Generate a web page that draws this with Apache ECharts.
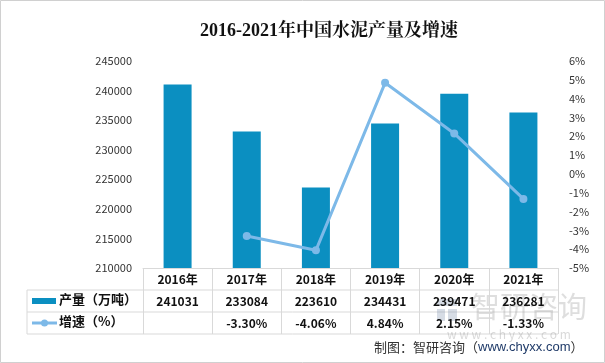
<!DOCTYPE html>
<html><head><meta charset="utf-8">
<script src="https://cdn.jsdelivr.net/npm/echarts@6/dist/echarts.min.js"></script>
<style>html,body{margin:0;padding:0;background:#fff}#c{width:605px;height:363px;}</style>
</head><body><div id="c"></div>
<script>
const categories = ['2016年','2017年','2018年','2019年','2020年','2021年'];
const output = [241031, 233084, 223610, 234431, 239471, 236281];
const growth = [null, -3.30, -4.06, 4.84, 2.15, -1.33];
const growthText = ['', '-3.30%', '-4.06%', '4.84%', '2.15%', '-1.33%'];
const seriesNames = ['产量（万吨）', '增速（%）'];
const titleText = '2016-2021年中国水泥产量及增速';
const sourceText = '制图：智研咨询（';
const sourceUrl = 'www.chyxx.com';

const barColor = '#0b8fc1';
const lineColor = '#7db9e8';
const gridC = '#d9d9d9';
const sans = '"Noto Sans CJK SC", "Noto Sans", sans-serif';

const chart = echarts.init(document.getElementById('c'), null, {renderer: 'canvas'});
const G = {left: 143, right: 47, top: 61, bottom: 95};
const tableLeft = 27, tableRight = 605 - G.right, axisY = 363 - G.bottom;
const rowH = 22;

chart.setOption({
  animation: false,
  backgroundColor: '#fff',
  title: {
    text: titleText, left: 324, top: 17, textAlign: 'center',
    textStyle: {fontFamily: '"Liberation Serif", "Noto Serif CJK SC", "Noto Sans CJK SC", serif', fontSize: 18, fontWeight: 'bold', color: '#111'}
  },
  grid: G,
  xAxis: {
    type: 'category', data: categories,
    axisLine: {show: true, onZero: false, lineStyle: {color: gridC}},
    axisTick: {show: true, inside: false, length: rowH * 3, lineStyle: {color: gridC}},
    axisLabel: {
      margin: 0, interval: 0,
      formatter: (v, i) => '{h|' + v + '}\n{v|' + output[i] + '}\n{v|' + (growthText[i] || ' ') + '}',
      rich: {
        h: {fontFamily: sans, fontSize: 12, fontWeight: 'bold', color: '#111', lineHeight: rowH, height: rowH},
        v: {fontFamily: sans, fontSize: 12, fontWeight: 'bold', color: '#111', lineHeight: rowH, height: rowH}
      }
    }
  },
  yAxis: [
    {type: 'value', min: 210000, max: 245000, interval: 5000,
     axisLine: {show: false}, axisTick: {show: false}, splitLine: {show: false},
     axisLabel: {margin: 11, fontFamily: sans, fontSize: 11, color: '#333', formatter: v => String(v)}},
    {type: 'value', min: -5, max: 6, interval: 1, position: 'right',
     axisLine: {show: false}, axisTick: {show: false}, splitLine: {show: false},
     axisLabel: {margin: 11, fontFamily: sans, fontSize: 11, color: '#333', formatter: '{value}%'}}
  ],
  series: [
    {name: seriesNames[0], type: 'bar', data: output, barWidth: 28, itemStyle: {color: barColor}, yAxisIndex: 0},
    {name: seriesNames[1], type: 'line', data: growth, yAxisIndex: 1, connectNulls: false,
     symbol: 'circle', symbolSize: 8, showSymbol: true,
     lineStyle: {color: lineColor, width: 3}, itemStyle: {color: lineColor}}
  ],
  graphic: [
    {type: 'rect', shape: {x: 0.5, y: 0.5, width: 604, height: 362}, style: {fill: 'none', stroke: '#d0d0d0', lineWidth: 1}, silent: true},
    // table lines
    {type: 'line', shape: {x1: tableLeft, y1: axisY + rowH, x2: tableRight, y2: axisY + rowH}, style: {stroke: gridC, lineWidth: 1}},
    {type: 'line', shape: {x1: tableLeft, y1: axisY + rowH * 2, x2: tableRight, y2: axisY + rowH * 2}, style: {stroke: gridC, lineWidth: 1}},
    {type: 'line', shape: {x1: tableLeft, y1: axisY + rowH * 3, x2: tableRight, y2: axisY + rowH * 3}, style: {stroke: gridC, lineWidth: 1}},
    {type: 'line', shape: {x1: tableLeft, y1: axisY + rowH, x2: tableLeft, y2: axisY + rowH * 3}, style: {stroke: gridC, lineWidth: 1}},
    // legend keys
    {type: 'rect', shape: {x: 32, y: axisY + rowH + 8, width: 24, height: 6}, style: {fill: barColor}},
    {type: 'text', left: 59, top: axisY + rowH + 3, style: {text: seriesNames[0], font: 'bold 13px ' + sans, fill: '#111'}},
    {type: 'line', shape: {x1: 32, y1: axisY + rowH * 2.5, x2: 57, y2: axisY + rowH * 2.5}, style: {stroke: lineColor, lineWidth: 3}},
    {type: 'circle', shape: {cx: 44.5, cy: axisY + rowH * 2.5, r: 3.5}, style: {fill: lineColor}},
    {type: 'text', left: 59, top: axisY + rowH * 2 + 3, style: {text: seriesNames[1], font: 'bold 13px ' + sans, fill: '#111'}},
    // watermark
    {type: 'text', left: 471, top: 292, style: {text: '智研咨询', font: '29px ' + sans, fill: 'rgba(160,160,160,0.35)'}, silent: true},
    {type: 'rect', shape: {x: 437, y: 299, width: 20, height: 7}, style: {fill: 'rgba(120,140,170,0.3)'}, silent: true},
    {type: 'rect', shape: {x: 437, y: 309, width: 8, height: 12}, style: {fill: 'rgba(120,140,170,0.3)'}, silent: true},
    {type: 'rect', shape: {x: 448, y: 309, width: 9, height: 12}, style: {fill: 'rgba(120,140,170,0.3)'}, silent: true},
    {type: 'text', left: 447, top: 328, style: {text: 'w w w . c h y x x . c o m', font: '12px ' + sans, fill: 'rgba(160,160,160,0.4)'}, silent: true},
    // source
    {type: 'text', left: 374, top: 341, style: {
      text: '{a|' + sourceText + '}{b|' + sourceUrl + '}{a|）}',
      rich: {a: {font: '13px ' + sans, fill: '#333'}, b: {font: '13px "Liberation Sans", sans-serif', fill: '#1f3a68'}}
    }}
  ]
});
</script></body></html>
